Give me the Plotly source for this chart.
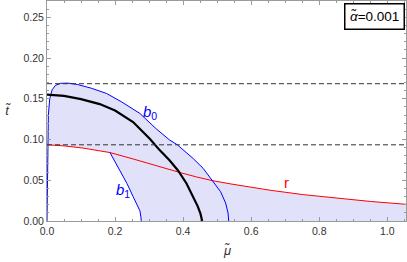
import numpy as np
import plotly.graph_objects as go

# ---- data ----
black_mu = [0.0, 0.05, 0.10, 0.155, 0.20, 0.253, 0.302, 0.331, 0.36, 0.385, 0.41, 0.429, 0.443, 0.451, 0.456]
black_t  = [0.155, 0.1535, 0.1495, 0.1435, 0.1355, 0.1215, 0.101, 0.087, 0.0745, 0.062, 0.046, 0.030, 0.018, 0.009, 0.0]

b0_mu = [0.0, 0.0008, 0.002, 0.004, 0.008, 0.015, 0.025, 0.04, 0.062, 0.09, 0.13, 0.175, 0.22, 0.273, 0.32, 0.36, 0.383, 0.40, 0.43, 0.459, 0.488, 0.51, 0.525, 0.532, 0.534]
b0_t  = [0.0, 0.05, 0.10, 0.13, 0.150, 0.161, 0.1665, 0.1690, 0.1692, 0.1675, 0.1630, 0.1565, 0.146, 0.132, 0.1135, 0.0995, 0.0935, 0.0875, 0.0765, 0.0646, 0.049, 0.036, 0.022, 0.010, 0.0]

b1_mu = [0.185, 0.20, 0.214, 0.235, 0.253, 0.266, 0.273, 0.276, 0.277]
b1_t  = [0.084, 0.073, 0.0625, 0.046, 0.030, 0.019, 0.0125, 0.005, 0.0]

red_mu = [0.0, 0.05, 0.106, 0.155, 0.185, 0.25, 0.302, 0.35, 0.395, 0.44, 0.488, 0.54, 0.596, 0.655, 0.75, 0.851, 0.95, 1.055]
red_t  = [0.0935, 0.0922, 0.0895, 0.0865, 0.084, 0.0765, 0.070, 0.0645, 0.059, 0.054, 0.0494, 0.0455, 0.0418, 0.0378, 0.0325, 0.0278, 0.0240, 0.0205]

hlines = [0.1685, 0.0935]

x_ticks = [0.0, 0.2, 0.4, 0.6, 0.8, 1.0]
y_ticks = [0.0, 0.05, 0.10, 0.15, 0.20, 0.25]

FILL = "#E1E1FA"
FONT = "Liberation Sans, Arial, sans-serif"

fig = go.Figure()

# region under b0
fig.add_trace(go.Scatter(x=b0_mu + [b0_mu[0]], y=b0_t + [b0_t[0]], fill="toself",
                         fillcolor=FILL, line=dict(width=0), mode="lines", hoverinfo="skip"))
# region under r to the right (fills to zero)
rm = np.array(red_mu); rt = np.array(red_t)
mask = rm >= 0.3
fig.add_trace(go.Scatter(x=rm[mask], y=rt[mask], fill="tozeroy", fillcolor=FILL,
                         line=dict(width=0), mode="lines", hoverinfo="skip"))
# white hole: under r, left of b1
hm = rm <= b1_mu[0]
hole_x = list(rm[hm]) + b1_mu + [0.0]
hole_y = list(rt[hm]) + b1_t + [0.0]
fig.add_trace(go.Scatter(x=hole_x, y=hole_y, fill="toself", fillcolor="white",
                         line=dict(width=0), mode="lines", hoverinfo="skip"))

# curves
fig.add_trace(go.Scatter(x=red_mu, y=red_t, mode="lines", line=dict(color="#FF0000", width=1)))
fig.add_trace(go.Scatter(x=b1_mu, y=b1_t, mode="lines", line=dict(color="#0000FF", width=1)))
fig.add_trace(go.Scatter(x=b0_mu, y=b0_t, mode="lines", line=dict(color="#0000FF", width=1)))
fig.add_trace(go.Scatter(x=black_mu, y=black_t, mode="lines", line=dict(color="black", width=2.2)))

for h in hlines:
    fig.add_shape(type="line", xref="paper", x0=0, x1=1, yref="y", y0=h, y1=h,
                  line=dict(color="#333333", width=1, dash="5px,3px"), layer="above")

axis_common = dict(showline=True, linecolor="#9a9a9a", linewidth=1, mirror="ticks",
                   ticks="inside", ticklen=4, tickcolor="#9a9a9a", tickwidth=1,
                   showgrid=False, zeroline=False,
                   tickfont=dict(family=FONT, size=10.5, color="#333333"))

fig.update_layout(
    width=407, height=262,
    margin=dict(l=47, r=1, t=1, b=41),
    paper_bgcolor="white", plot_bgcolor="white",
    showlegend=False,
    xaxis=dict(range=[0, 1.055], tickvals=x_ticks, ticktext=[f"{v:.1f}" for v in x_ticks],
               minor=dict(dtick=0.05, ticks="inside", ticklen=2, tickcolor="#9a9a9a"),
               **axis_common),
    yaxis=dict(range=[0, 0.27], tickvals=y_ticks, ticktext=[f"{v:.2f}" for v in y_ticks],
               minor=dict(dtick=0.01, ticks="inside", ticklen=2, tickcolor="#9a9a9a"),
               **axis_common),
)

fig.add_annotation(text="<i>b</i><sub>0</sub>", x=0.304, y=0.133, xref="x", yref="y",
                   showarrow=False, font=dict(family=FONT, size=15, color="#0000FF"))
fig.add_annotation(text="<i>b</i><sub>1</sub>", x=0.222, y=0.038, xref="x", yref="y",
                   showarrow=False, font=dict(family=FONT, size=15, color="#0000FF"))
fig.add_annotation(text="r", x=0.705, y=0.047, xref="x", yref="y",
                   showarrow=False, font=dict(family=FONT, size=15, color="#FF0000"))

fig.add_annotation(text="<i>α\u0303</i>=0.001", xref="paper", yref="paper", x=1, y=1,
                   xanchor="right", yanchor="top", xshift=-1, yshift=-2, showarrow=False,
                   bordercolor="black", borderwidth=1.5, borderpad=4.5, bgcolor="white",
                   font=dict(family=FONT, size=13.5, color="black"))

fig.add_annotation(text="<i>μ\u0303</i>", xref="paper", yref="paper", x=(227 - 47) / 359, y=-0.135,
                   xanchor="center", yanchor="middle", showarrow=False,
                   font=dict(family=FONT, size=13, color="#333333"))
fig.add_annotation(text="<i>t\u0303</i>", xref="paper", yref="paper", x=-0.11, y=(221 - 110) / 220,
                   xanchor="center", yanchor="middle", showarrow=False,
                   font=dict(family=FONT, size=13, color="#333333"))

fig.write_html("out.html", config={"displayModeBar": False},
               post_script="document.body.style.margin='0';document.body.style.overflow='hidden';")
